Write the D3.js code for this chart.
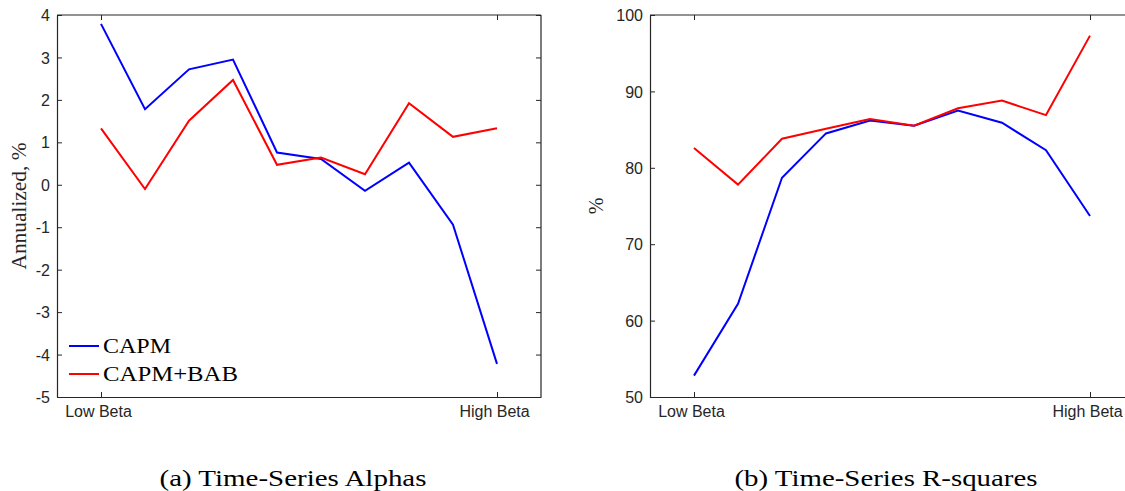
<!DOCTYPE html>
<html><head><meta charset="utf-8">
<script src="https://cdn.jsdelivr.net/npm/d3@7"></script>
<style>
html,body{margin:0;padding:0;background:#fff;overflow:hidden;}
svg{display:block;}
</style></head>
<body>
<svg id="c" width="1125" height="491"></svg>
<script>
const portfolios = [1,2,3,4,5,6,7,8,9,10];
const xTickLabels = ["Low Beta","High Beta"];
const alphaCAPM    = [3.79, 1.78, 2.72, 2.95, 0.76, 0.61, -0.14, 0.52, -0.94, -4.22];
const alphaCAPMBAB = [1.33, -0.10, 1.51, 2.47, 0.47, 0.64, 0.25, 1.92, 1.13, 1.33];
const r2CAPM    = [52.8, 62.2, 78.7, 84.5, 86.2, 85.5, 87.5, 85.9, 82.3, 73.7];
const r2CAPMBAB = [82.6, 77.8, 83.8, 85.1, 86.4, 85.5, 87.8, 88.8, 86.9, 97.3];
const alphaTicks = [-5,-4,-3,-2,-1,0,1,2,3,4];
const r2Ticks = [50,60,70,80,90,100];
const seriesNames = ["CAPM","CAPM+BAB"];
const seriesColors = ["#0000ff","#ff0000"];

const svg = d3.select("#c");
const axColor = "#262626";
const serif = "'Liberation Serif','DejaVu Serif',serif";
const sans = "'Liberation Sans',Arial,sans-serif";

function panel(left, yDomain, yTicks, dataA, dataB, ylabel, ylabelX, ylabelLen, caption, capX, capLen, legend){
  const top = 15, bottom = 397, width = 484;
  const x = d3.scaleLinear().domain([0,11]).range([left, left+width]);
  const y = d3.scaleLinear().domain(yDomain).range([bottom, top]);
  const g = svg.append("g");

  const right = left + width;
  g.append("line").attr("x1",left).attr("x2",right).attr("y1",top).attr("y2",top).attr("stroke",axColor).attr("stroke-width",1.2);
  g.append("line").attr("x1",right).attr("x2",right).attr("y1",top).attr("y2",bottom).attr("stroke",axColor).attr("stroke-width",1.2);

  const yAxis = d3.axisLeft(y).tickValues(yTicks).tickFormat(d=>String(d)).tickSize(-5).tickPadding(12).tickSizeOuter(0);
  const ya = g.append("g").attr("transform",`translate(${left},0)`).call(yAxis);
  const yAxisR = d3.axisRight(y).tickValues(yTicks).tickSize(-5).tickFormat("").tickSizeOuter(0);
  const yr = g.append("g").attr("transform",`translate(${right},0)`).call(yAxisR);
  yr.select(".domain").remove();
  const xAxis = d3.axisBottom(x).tickValues([1,10]).tickFormat((d,i)=>xTickLabels[i]).tickSize(-5).tickPadding(9).tickSizeOuter(0);
  const xa = g.append("g").attr("transform",`translate(0,${bottom})`).call(xAxis);
  const xAxisT = d3.axisTop(x).tickValues([1,10]).tickFormat("").tickSize(-5).tickSizeOuter(0);
  const xt = g.append("g").attr("transform",`translate(0,${top})`).call(xAxisT);
  xt.select(".domain").remove();

  [ya,yr,xa,xt].forEach(a=>{
    a.selectAll(".domain").attr("stroke",axColor).attr("stroke-width",1.2);
    a.selectAll(".tick line").attr("stroke",axColor).attr("stroke-width",1);
    a.selectAll("text").attr("fill",axColor).style("font-family",sans).style("font-size","16px");
  });
  ya.selectAll("text").attr("dy","0.35em").attr("x",-7);
  xa.selectAll("text").attr("dy","0.71em").attr("y",9).attr("dx",-3);

  const line = d3.line().x((d,i)=>x(portfolios[i])).y(d=>y(d));
  g.append("path").datum(dataA).attr("d",line).attr("fill","none").attr("stroke",seriesColors[0]).attr("stroke-width",2);
  g.append("path").datum(dataB).attr("d",line).attr("fill","none").attr("stroke",seriesColors[1]).attr("stroke-width",2);

  const yl = g.append("text").attr("transform",`translate(${ylabelX},${(top+bottom)/2}) rotate(-90)`)
    .attr("text-anchor","middle").attr("fill",axColor)
    .style("font-family",serif).style("font-size","20px").text(ylabel);
  if(ylabelLen) yl.attr("textLength",ylabelLen).attr("lengthAdjust","spacingAndGlyphs");

  svg.append("text").attr("x",capX).attr("y",486).attr("text-anchor","middle").attr("fill","#000")
    .style("font-family",serif).style("font-size","23px")
    .attr("textLength",capLen).attr("lengthAdjust","spacingAndGlyphs").text(caption);

  if(legend){
    const lg = g.append("g");
    const lens = [68,135];
    seriesNames.forEach((n,i)=>{
      const yy = 346 + i*28;
      lg.append("line").attr("x1",69).attr("x2",99).attr("y1",yy).attr("y2",yy).attr("stroke",seriesColors[i]).attr("stroke-width",2);
      lg.append("text").attr("x",103).attr("y",yy+7).attr("fill","#000")
        .style("font-family",serif).style("font-size","22px")
        .attr("textLength",lens[i]).attr("lengthAdjust","spacingAndGlyphs").text(n);
    });
  }
}

panel(57, [-5,4], alphaTicks, alphaCAPM, alphaCAPMBAB, "Annualized, %", 26, 127, "(a)  Time-Series Alphas", 293, 267, true);
panel(650, [50,100], r2Ticks, r2CAPM, r2CAPMBAB, "%", 603, null, "(b)  Time-Series R-squares", 886, 303, false);
</script>
</body></html>
